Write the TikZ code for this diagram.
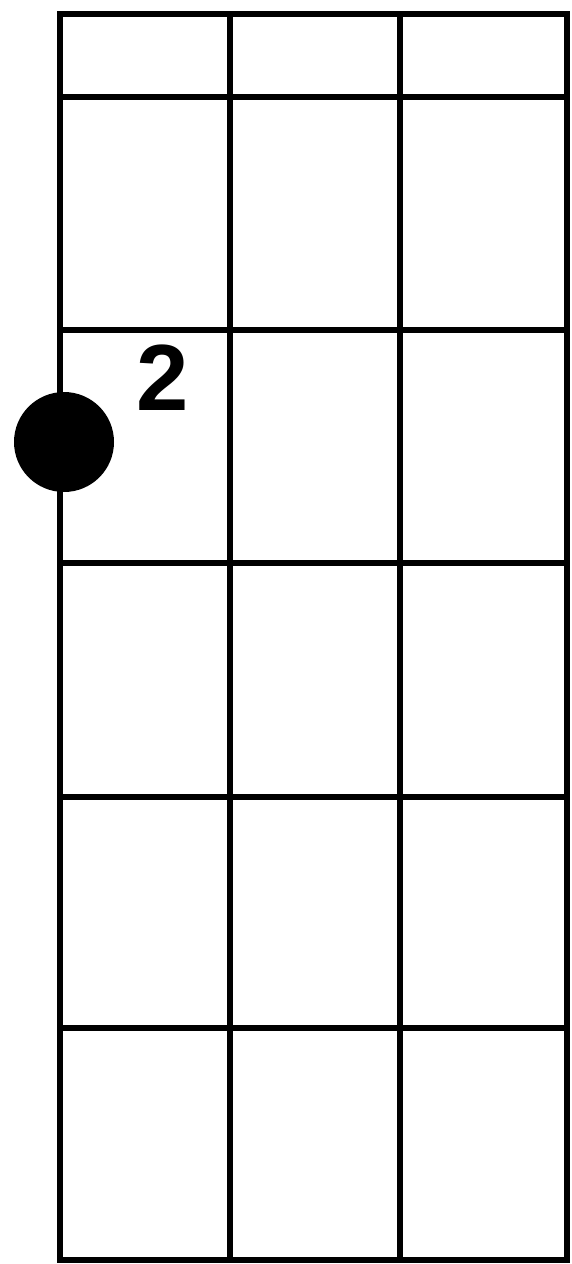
\documentclass[tikz,border=0pt]{standalone}
\usepackage{fontspec}
\setmainfont{Liberation Sans}
\usetikzlibrary{positioning,calc}

\begin{document}
\begin{tikzpicture}[
    x=1pt, y=-1pt,
    font=\fontsize{94}{94}\selectfont\bfseries,
    fret/.style={draw=black, line width=6.5pt, line cap=rect},
    fingerdot/.style={circle, fill=black, inner sep=0pt, minimum size=100pt}
  ]
    \useasboundingbox (0,0) rectangle (571,1264);
    % strings
    \foreach \x in {60,230,400,567}
      \draw[fret] (\x,14) -- (\x,1260);
    % nut and frets
    \foreach \y in {14,97,330,563,797,1028,1260}
      \draw[fret] (60,\y) -- (567,\y);
    \node[fingerdot] (dot) at (64,442) {};
    \node (finger) at (163,378) {2};
  \end{tikzpicture}
\end{document}
